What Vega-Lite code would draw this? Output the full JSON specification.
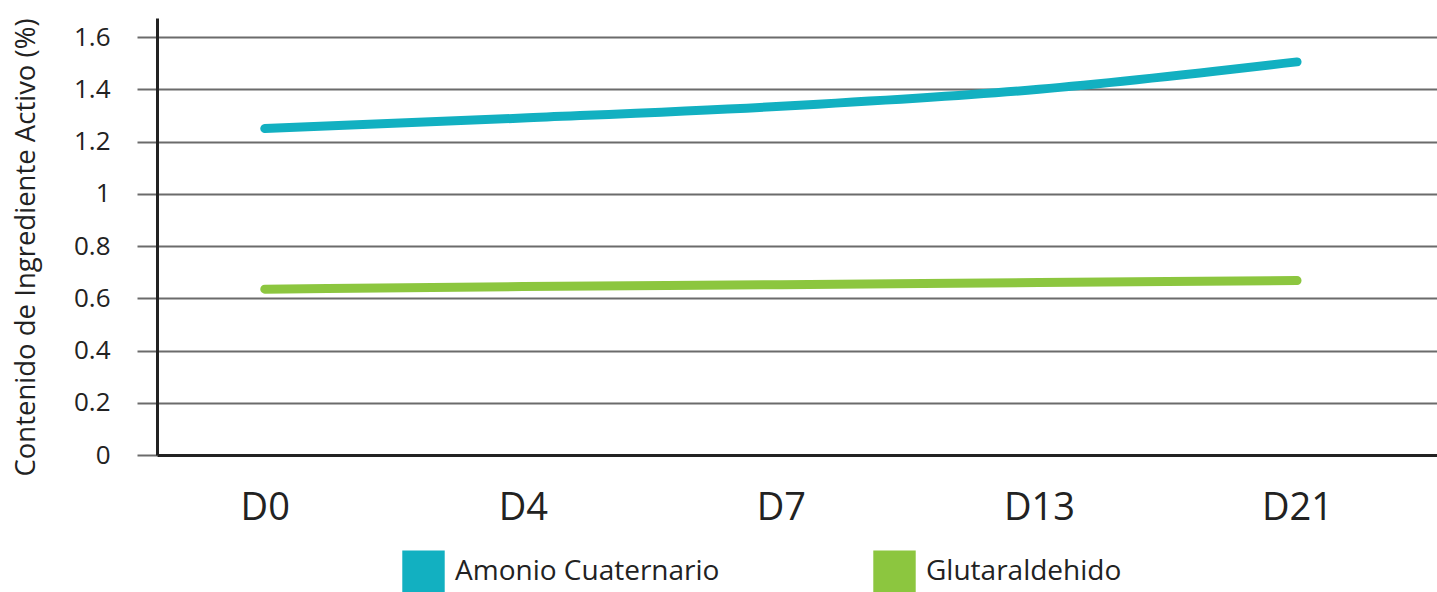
{
  "$schema": "https://vega.github.io/schema/vega-lite/v6.json",
  "width": 1280,
  "height": 437,
  "autosize": {"type": "none"},
  "padding": {"left": 157, "top": 18, "right": 0, "bottom": 137},
  "background": "#ffffff",
  "config": {
    "view": {"stroke": null},
    "font": "Open Sans"
  },
  "data": {
    "values": [
      {"dia": "D0", "serie": "Amonio Cuaternario", "valor": 1.25},
      {"dia": "D4", "serie": "Amonio Cuaternario", "valor": 1.29},
      {"dia": "D7", "serie": "Amonio Cuaternario", "valor": 1.335},
      {"dia": "D13", "serie": "Amonio Cuaternario", "valor": 1.40},
      {"dia": "D21", "serie": "Amonio Cuaternario", "valor": 1.505},
      {"dia": "D0", "serie": "Glutaraldehido", "valor": 0.635},
      {"dia": "D4", "serie": "Glutaraldehido", "valor": 0.645},
      {"dia": "D7", "serie": "Glutaraldehido", "valor": 0.652},
      {"dia": "D13", "serie": "Glutaraldehido", "valor": 0.66},
      {"dia": "D21", "serie": "Glutaraldehido", "valor": 0.668}
    ]
  },
  "mark": {"type": "line", "strokeWidth": 9, "strokeCap": "round", "interpolate": "monotone"},
  "encoding": {
    "x": {
      "field": "dia",
      "type": "ordinal",
      "sort": ["D0", "D4", "D7", "D13", "D21"],
      "scale": {"type": "point", "padding": 0.48, "align": 0.435},
      "axis": {
        "title": null,
        "labelAngle": 0,
        "ticks": false,
        "grid": false,
        "domainColor": "#222222",
        "domainWidth": 3,
        "labelFontSize": 38,
        "labelColor": "#222222",
        "labelPadding": 34
      }
    },
    "y": {
      "field": "valor",
      "type": "quantitative",
      "scale": {"domain": [0, 1.673], "nice": false},
      "axis": {
        "title": "Contenido de Ingrediente Activo (%)",
        "titleFontSize": 27.5,
        "titleFontWeight": "normal",
        "titleColor": "#222222",
        "titlePadding": 33,
        "titleY": 229,
        "values": [0, 0.2, 0.4, 0.6, 0.8, 1, 1.2, 1.4, 1.6],
        "format": "~g",
        "labelFontSize": 26,
        "labelColor": "#222222",
        "labelPadding": 27,
        "tickSize": 20,
        "tickColor": "#6b6b6b",
        "tickWidth": 2,
        "grid": true,
        "gridColor": "#6b6b6b",
        "gridWidth": 2,
        "domainColor": "#222222",
        "domainWidth": 3
      }
    },
    "color": {
      "field": "serie",
      "type": "nominal",
      "scale": {"domain": ["Amonio Cuaternario", "Glutaraldehido"], "range": ["#12b0c1", "#8cc63f"]},
      "legend": {
        "title": null,
        "orient": "none",
        "legendX": 245,
        "legendY": 532,
        "direction": "horizontal",
        "symbolType": "square",
        "symbolSize": 1800,
        "symbolStrokeWidth": 0,
        "labelFontSize": 28,
        "labelLimit": 0,
        "labelColor": "#222222",
        "labelOffset": 10,
        "columnPadding": 153,
        "padding": 0,
        "encode": {
          "symbols": {"update": {"fill": {"scale": "color", "field": "value"}, "fillOpacity": {"value": 1}}}
        }
      }
    }
  }
}
